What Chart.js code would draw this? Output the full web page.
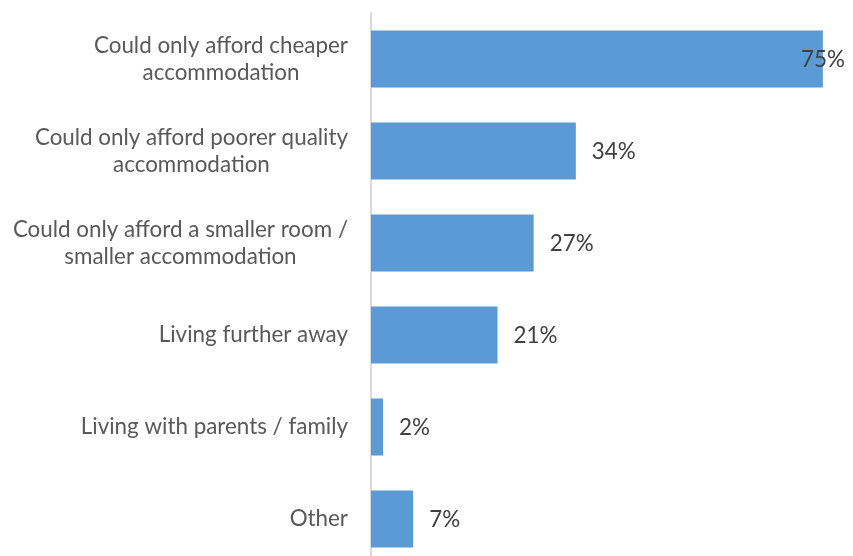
<!DOCTYPE html>
<html>
<head>
<meta charset="utf-8">
<script src="https://cdn.jsdelivr.net/npm/chart.js@4/dist/chart.umd.min.js"></script>
<style>
  html, body { margin: 0; padding: 0; background: #ffffff; overflow: hidden; }
  #wrap { position: relative; width: 853px; height: 565px; }
</style>
</head>
<body>
<div id="wrap"><canvas id="chart"></canvas></div>
<script>
// Reasons reported, one entry per bar; each entry holds the lines of its label
const categories = [
  ['Could only afford cheaper', 'accommodation'],
  ['Could only afford poorer quality', 'accommodation'],
  ['Could only afford a smaller room /', 'smaller accommodation'],
  ['Living further away'],
  ['Living with parents / family'],
  ['Other']
];
// Share of respondents, in percent
const shares = [75, 34, 27, 21, 2, 7];
const valueSuffix = '%';

const FONT = 'Lato, "Open Sans", sans-serif';
const LABEL_SIZE = 22.4;
const LINE_HEIGHT = 27;

// Draws the category labels (each line centred within its block, block right-aligned to the axis)
// and the value labels at the end of each bar.
const labelPlugin = {
  id: 'labels',
  afterDatasetsDraw(chart) {
    const ctx = chart.ctx;
    const y = chart.scales.y;
    const area = chart.chartArea;
    ctx.save();
    ctx.font = LABEL_SIZE + 'px ' + FONT;
    ctx.textBaseline = 'middle';
    ctx.fillStyle = '#595959';
    categories.forEach((lines, i) => {
      const cy = y.getPixelForValue(i);
      const widths = lines.map(l => ctx.measureText(l).width);
      const maxW = Math.max(...widths);
      const right = area.left - 23;
      const cx = right - maxW / 2;
      ctx.textAlign = 'center';
      const top = cy - (lines.length - 1) * LINE_HEIGHT / 2;
      lines.forEach((l, k) => ctx.fillText(l, cx, top + k * LINE_HEIGHT));
    });
    // value labels
    const meta = chart.getDatasetMeta(0);
    ctx.fillStyle = '#404040';
    ctx.textAlign = 'left';
    meta.data.forEach((bar, i) => {
      const txt = shares[i] + valueSuffix;
      const w = ctx.measureText(txt).width;
      let x = bar.x + 16;
      const maxRight = area.right - 8;
      if (x + w > maxRight) x = maxRight - w;
      ctx.fillText(txt, x, bar.y + 1);
    });
    ctx.restore();
  }
};

new Chart(document.getElementById('chart'), {
  type: 'bar',
  data: {
    labels: categories,
    datasets: [{
      data: shares,
      backgroundColor: '#5b9bd5',
      borderWidth: 0,
      categoryPercentage: 1,
      barPercentage: 0.62
    }]
  },
  options: {
    indexAxis: 'y',
    responsive: true,
    maintainAspectRatio: false,
    animation: false,
    layout: { padding: { top: 13, right: 0, bottom: 0, left: 0 } },
    plugins: { legend: { display: false }, tooltip: { enabled: false } },
    scales: {
      x: {
        display: false,
        min: 0,
        max: 80
      },
      y: {
        display: true,
        ticks: { display: false },
        grid: { display: false },
        border: { display: true, color: '#d9d9d9', width: 2 },
        afterFit(scale) { scale.width = 371; }
      }
    }
  },
  plugins: [labelPlugin]
});
</script>
</body>
</html>
